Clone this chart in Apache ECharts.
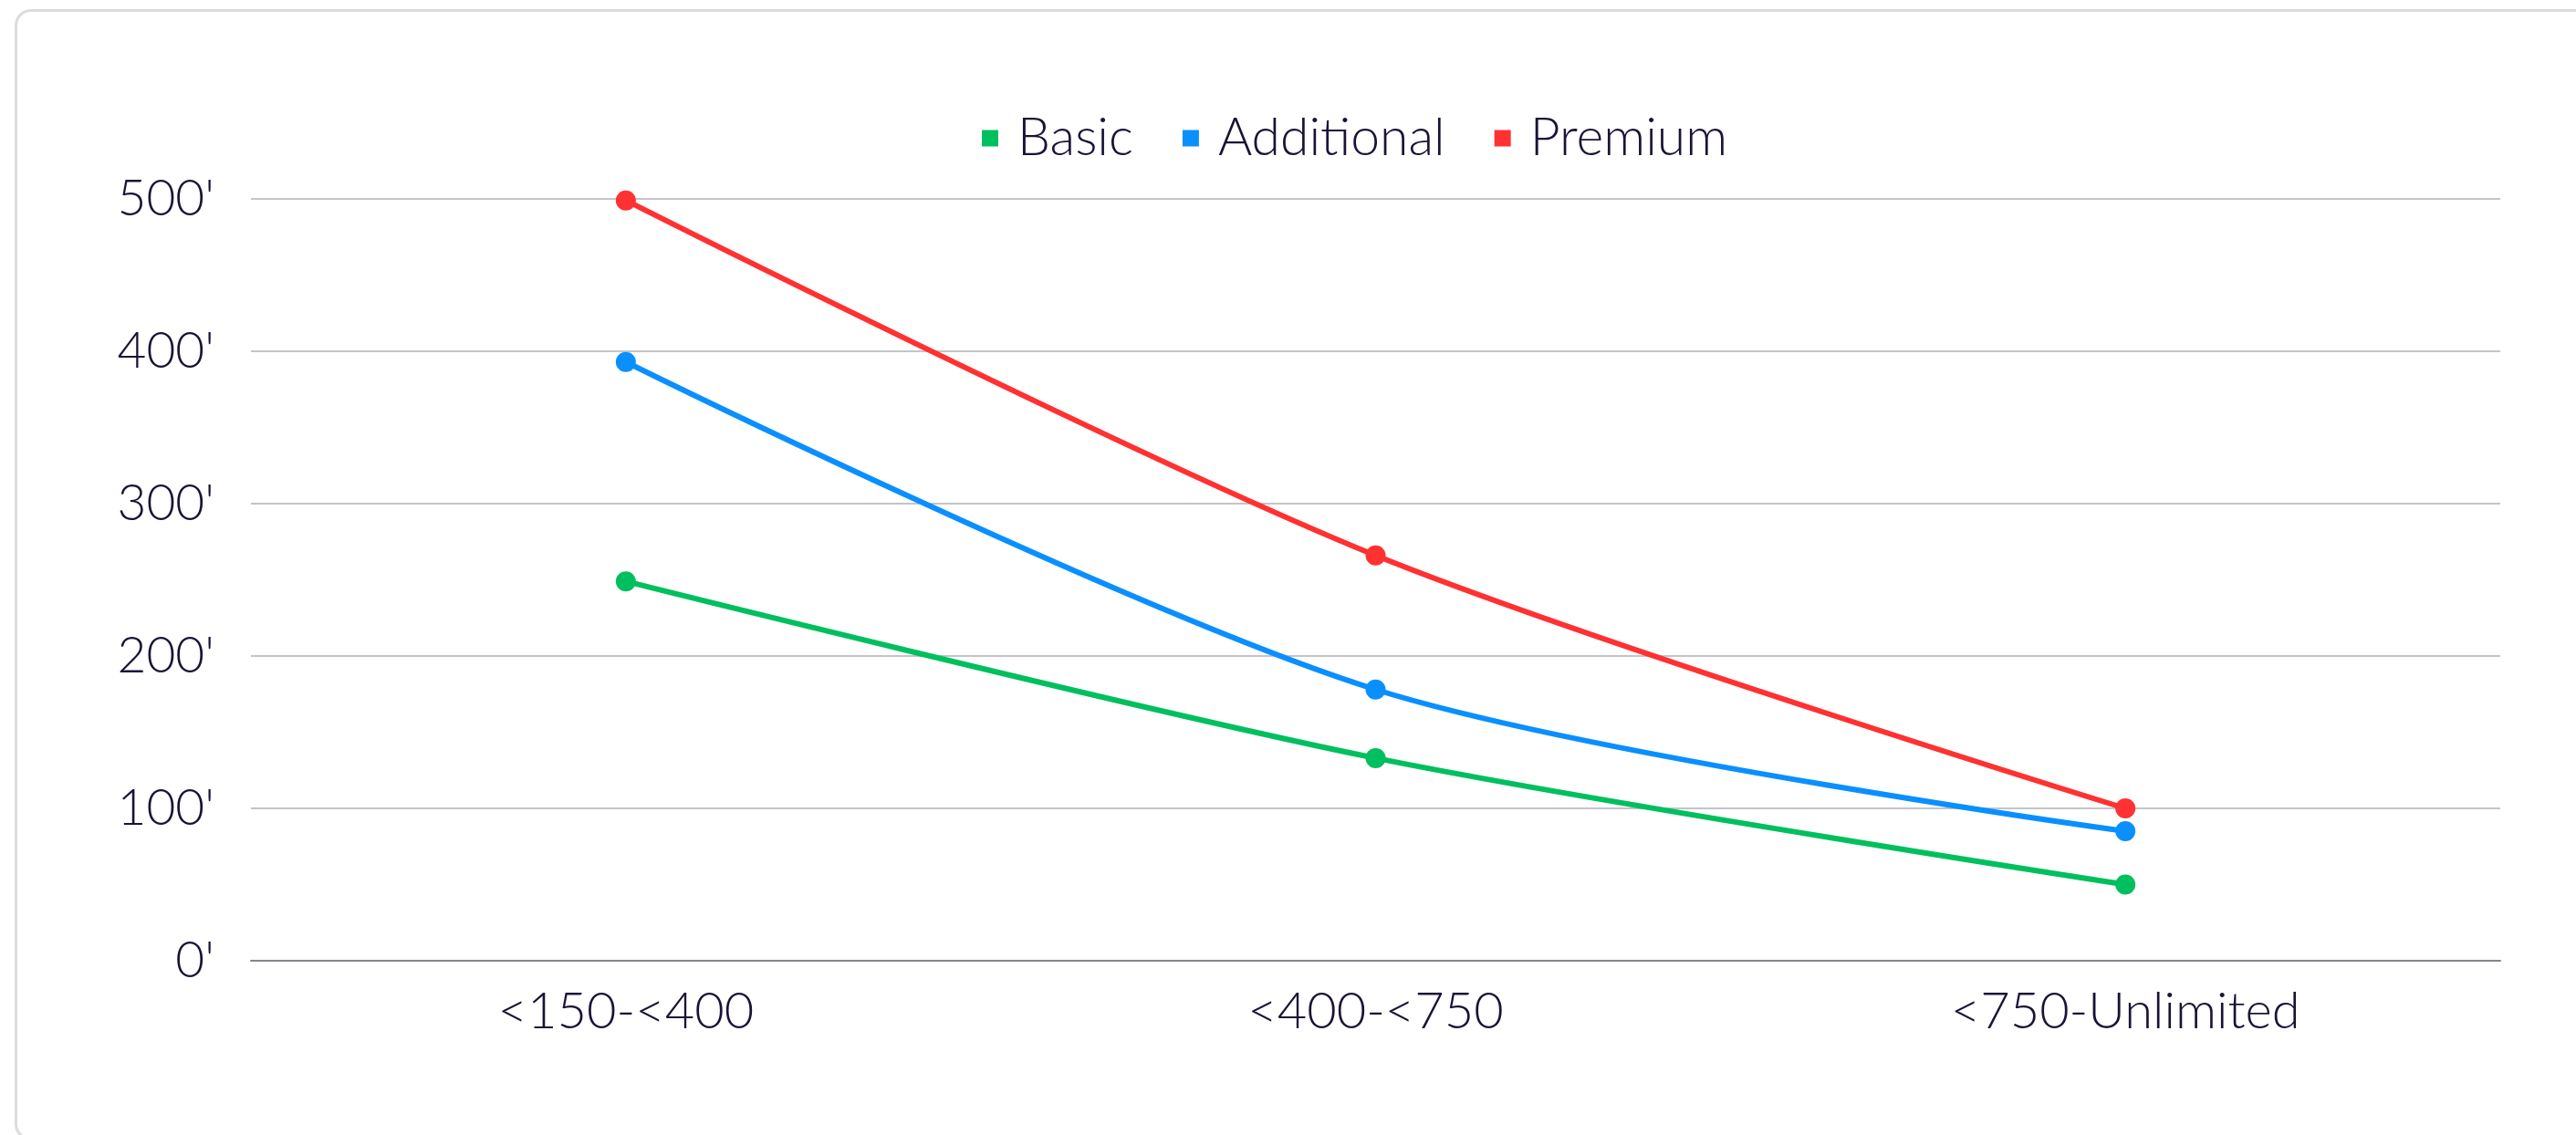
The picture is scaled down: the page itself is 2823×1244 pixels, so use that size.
<!DOCTYPE html>
<html>
<head>
<meta charset="utf-8">
<title>Price by range</title>
<script src="https://cdn.jsdelivr.net/npm/echarts@6/dist/echarts.min.js"></script>
<style>
  html, body { margin: 0; padding: 0; background: #ffffff; width: 2823px; height: 1244px; overflow: hidden; }
  #card { position: absolute; left: 16px; top: 10px; width: 2830px; height: 1240px; border: 3px solid #dcdcdc; border-radius: 18px; box-sizing: border-box; }
  #chart { position: absolute; left: 0; top: 0; width: 2823px; height: 1244px; }
</style>
</head>
<body>
<div id="card"></div>
<div id="chart"></div>
<script>
// Ranges on the x axis
const categories = ['<150-<400', '<400-<750', '<750-Unlimited'];

// Values per plan
const basic = [249, 133, 50];
const additional = [393, 178, 85];
const premium = [499, 266, 100];

// Y axis ticks
const yTicks = [0, 100, 200, 300, 400, 500];

const textColor = '#1c1235';
const fontFamily = 'Lato, "Noto Sans", sans-serif';

const chart = echarts.init(document.getElementById('chart'), null, { renderer: 'canvas' });

function lineSeries(name, data, color) {
  return {
    name: name,
    type: 'line',
    data: data,
    smooth: 0.3,
    symbol: 'circle',
    symbolSize: 22,
    lineStyle: { width: 6, color: color },
    itemStyle: { color: color },
    emphasis: { disabled: true }
  };
}

chart.setOption({
  animation: false,
  backgroundColor: 'transparent',
  legend: {
    top: 118,
    left: 1071,
    icon: 'rect',
    itemWidth: 18,
    itemHeight: 18,
    itemGap: 54,
    textStyle: { color: textColor, fontSize: 57, fontFamily: fontFamily, fontWeight: 300, padding: [0, 0, 0, 16] },
    data: ['Basic', 'Additional', 'Premium']
  },
  grid: { left: 275, right: 83, top: 218, bottom: 191, containLabel: false },
  xAxis: {
    type: 'category',
    data: categories,
    boundaryGap: true,
    axisLine: { show: true, lineStyle: { color: '#85858c', width: 2 } },
    axisTick: { show: false },
    axisLabel: { color: textColor, fontSize: 56, fontFamily: fontFamily, fontWeight: 300, margin: 28 }
  },
  yAxis: {
    type: 'value',
    min: yTicks[0],
    max: yTicks[yTicks.length - 1],
    interval: 100,
    axisLine: { show: false },
    axisTick: { show: false },
    splitLine: { lineStyle: { color: '#c4c4cb', width: 2 } },
    axisLabel: {
      color: textColor, fontSize: 55, fontFamily: fontFamily, fontWeight: 300, margin: 40,
      formatter: function (v) { return v + "'"; }
    }
  },
  series: [
    lineSeries('Basic', basic, '#00bf5f'),
    lineSeries('Additional', additional, '#0a8fff'),
    lineSeries('Premium', premium, '#ff3131')
  ]
});
</script>
</body>
</html>
